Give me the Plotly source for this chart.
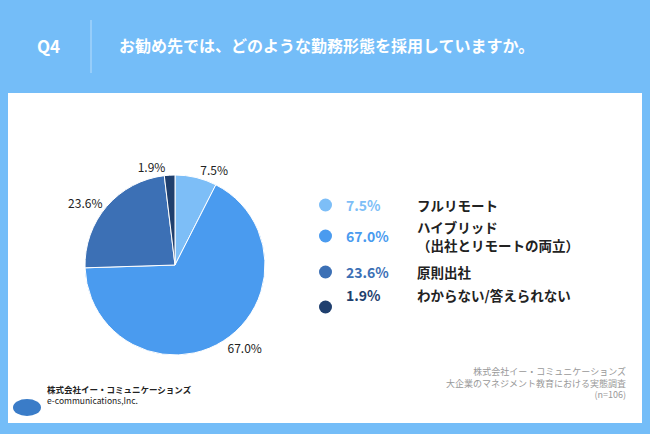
import plotly.graph_objects as go

labels = ["フルリモート", "ハイブリッド<br>（出社とリモートの両立）", "原則出社", "わからない/答えられない"]
values = [7.5, 67.0, 23.6, 1.9]
colors = ["#7DBEF7", "#4A9BEF", "#3C70B5", "#1F3F6E"]
title = "お勧め先では、どのような勤務形態を採用していますか。"
source = ["株式会社イー・コミュニケーションズ", "大企業のマネジメント教育における実態調査", "(n=106)"]

W, H = 650, 434
font = "Noto Sans CJK JP"
fig = go.Figure()

fig.add_trace(go.Pie(
    values=values, labels=labels, sort=False, direction="clockwise", rotation=0,
    marker=dict(colors=colors, line=dict(color="white", width=1)),
    texttemplate="%{value:.1f}%", textposition="outside",
    textfont=dict(size=12, color="#222", family=font),
    domain=dict(x=[85/W, 265/W], y=[79/H, 259/H]),
    showlegend=False, hoverinfo="label+value",
))

shapes = [
    dict(type="rect", xref="paper", yref="paper", x0=8/W, x1=642/W, y0=1-423/H, y1=1-93/H,
         fillcolor="white", line_width=0, layer="below"),
    dict(type="line", xref="paper", yref="paper", x0=91/W, x1=91/W, y0=1-73/H, y1=1-20/H,
         line=dict(color="#B8DDFB", width=1)),
]
ann = [
    dict(x=48/W, y=1-31/H, text="<b>Q4</b>", font=dict(size=17, color="white", family=font)),
    dict(x=117/W, y=1-31/H, text="<b>" + title + "</b>", xanchor="left",
         font=dict(size=16, color="white", family=font)),
]
ys = [205, 236, 272, 307]
for lab, v, c, y in zip(labels, values, colors, ys):
    shapes.append(dict(type="circle", xref="paper", yref="paper",
                       x0=319/W, x1=332/W, y0=1-(y+6.5)/H, y1=1-(y-6.5)/H,
                       fillcolor=c, line_width=0))
    ann.append(dict(x=344/W, y=1-y/H, text="<b>%.1f%%</b>" % v, xanchor="left",
                    font=dict(size=14, color=c, family=font)))
    ann.append(dict(x=415/W, y=1-y/H, text="<b>" + lab + "</b>", xanchor="left", align="left",
                    font=dict(size=13.5, color="#222", family=font)))
ann.append(dict(x=628/W, y=1-403/H, text="<br>".join(source), xanchor="right", align="right",
                font=dict(size=9, color="#999", family=font)))
ann.append(dict(x=45/W, y=1-408/H, text="<b>株式会社イー・コミュニケーションズ</b><br>e-communications,Inc.",
                xanchor="left", align="left", font=dict(size=8.5, color="#222", family=font)))
shapes.append(dict(type="circle", xref="paper", yref="paper", x0=13/W, x1=41/W,
                   y0=1-416/H, y1=1-399/H, fillcolor="#3A7CC8", line_width=0))
for a in ann:
    a.update(xref="paper", yref="paper", showarrow=False)
    a.setdefault("xanchor", "center")

fig.update_layout(width=W, height=H, margin=dict(l=0, r=0, t=0, b=0),
                  paper_bgcolor="#74BDF8", shapes=shapes, annotations=ann)
fig.write_html("out.html", config={"displayModeBar": False},
               post_script="document.body.style.margin='0';")
